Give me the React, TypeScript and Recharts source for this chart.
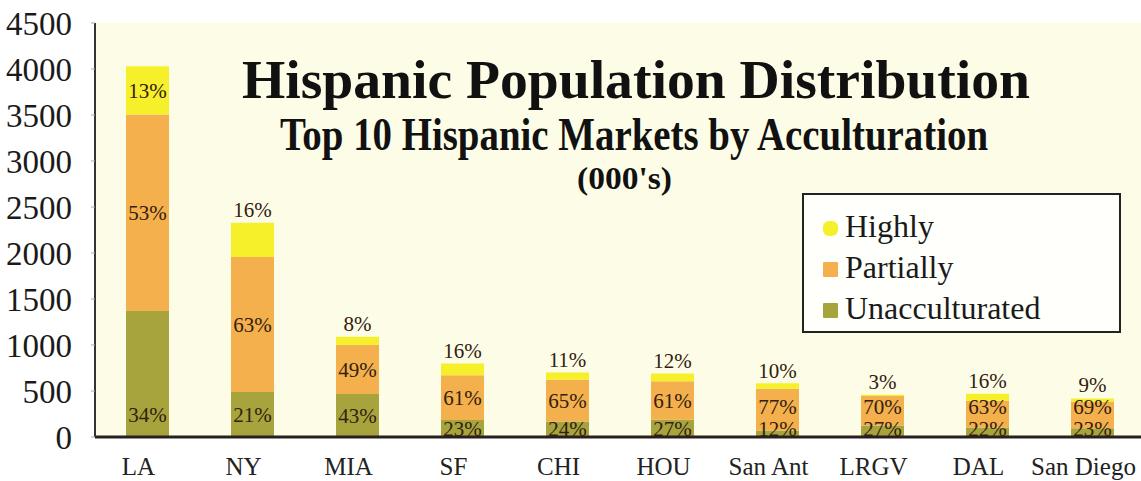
import { BarChart, Bar, XAxis, YAxis, CartesianGrid, Legend, LabelList } from 'recharts';

const markets = ['LA', 'NY', 'MIA', 'SF', 'CHI', 'HOU', 'San Ant', 'LRGV', 'DAL', 'San Diego'];
// total Hispanic population per market, in thousands
const totals = [4030, 2330, 1090, 800, 700, 690, 590, 460, 465, 415];
// share of each market by acculturation level, in percent
const unacculturatedPct = [34, 21, 43, 23, 24, 27, 12, 27, 22, 23];
const partiallyPct = [53, 63, 49, 61, 65, 61, 77, 70, 63, 69];
const highlyPct = [13, 16, 8, 16, 11, 12, 10, 3, 16, 9];
const yTicks = [0, 500, 1000, 1500, 2000, 2500, 3000, 3500, 4000, 4500];

const COLORS = { highly: '#f6f02a', partially: '#f4b04c', unacc: '#a7a43d' };
const SERIF = '"Liberation Serif", "Times New Roman", serif';
const LABEL_FILL = '#33200f';
const LABEL_GAP = 22;

type SegKey = 'unacc' | 'partially' | 'highly';

const data = markets.map((name, i) => ({
  name,
  unacc: (totals[i] * unacculturatedPct[i]) / 100,
  partially: (totals[i] * partiallyPct[i]) / 100,
  highly: (totals[i] * highlyPct[i]) / 100,
  unaccPct: unacculturatedPct[i],
  partiallyPct: partiallyPct[i],
  highlyPct: highlyPct[i],
}));

const pctText = (cx: number, cy: number, value: any) => (
  <text x={cx} y={cy} dy="0.35em" textAnchor="middle" fontSize={21} fontFamily={SERIF} fill={LABEL_FILL}>
    {`${value}%`}
  </text>
);

// Label heights for one bar, worked out from whichever segment is being
// labelled, so the three labels don't pile up on the short bars.
const labelRows = (index: number, y: number, height: number, key: SegKey) => {
  const d = data[index];
  const px = d[key] > 0 ? height / d[key] : 0;
  const below = key === 'unacc' ? 0 : key === 'partially' ? d.unacc : d.unacc + d.partially;
  const base = y + height + below * px;
  const unaccTop = base - d.unacc * px;
  const partTop = unaccTop - d.partially * px;
  const barTop = partTop - d.highly * px;
  const unaccCy = Math.min(Math.max((unaccTop + base) / 2, base - 22), base - 8);
  const partCy = Math.min((partTop + unaccTop) / 2, unaccCy - LABEL_GAP);
  // top share goes above the bar, except on the tallest one
  const highCy = index === 0 ? (barTop + partTop) / 2 : Math.min(barTop - 13, partCy - LABEL_GAP);
  return { unacc: unaccCy, partially: partCy, highly: highCy };
};

const segLabel = (key: SegKey) => (props: any) => {
  const { x, y, width, height, value, index } = props;
  return pctText(x + width / 2, labelRows(index, y, height, key)[key], value);
};

const legendRows = [
  { key: 'highly', label: 'Highly', rx: 6 },
  { key: 'partially', label: 'Partially', rx: 1 },
  { key: 'unacc', label: 'Unacculturated', rx: 1 },
];

const renderLegend = () => (
  <svg width={320} height={141}>
    <rect x={1} y={1} width={317} height={138} fill="#fffffc" stroke="#222" strokeWidth={2} />
    {legendRows.map((row, i) => {
      const base = 44 + i * 41;
      return (
        <g key={row.key}>
          <rect x={21} y={base - 16} width={15} height={15} rx={row.rx} fill={(COLORS as any)[row.key]} />
          <text x={43} y={base} fontSize={32} fontFamily={SERIF} fill="#1a1a1a">
            {row.label}
          </text>
        </g>
      );
    })}
  </svg>
);

export default function App() {
  return (
    <div
      style={{
        position: 'absolute',
        left: 0,
        top: 0,
        width: 1141,
        height: 481,
        overflow: 'hidden',
        background: '#ffffff',
        fontFamily: SERIF,
      }}
    >
      <BarChart width={1145} height={481} data={data} margin={{ top: 23, right: 0, bottom: 0, left: 0 }}>
        <CartesianGrid horizontal={false} vertical={false} fill="#fdfde7" stroke="none" />
        <XAxis
          dataKey="name"
          height={44}
          tickLine={false}
          tickSize={0}
          tickMargin={20}
          axisLine={{ stroke: '#2a1f1f', strokeWidth: 3 }}
          tick={{ fontSize: 25, fill: '#222', fontFamily: SERIF, dx: -9 }}
          interval={0}
        />
        <YAxis
          width={95}
          domain={[0, 4500]}
          ticks={yTicks}
          interval={0}
          tickSize={4}
          tickMargin={19}
          tickLine={{ stroke: '#aaa', strokeWidth: 1 }}
          axisLine={{ stroke: '#333', strokeWidth: 2 }}
          tick={{ fontSize: 33, fill: '#1a1a1a', fontFamily: SERIF }}
        />
        <Legend
          layout="horizontal"
          align="center"
          verticalAlign="middle"
          content={renderLegend}
          wrapperStyle={{ left: 802, top: 193, width: 320, height: 141 }}
        />
        <Bar dataKey="unacc" name="Unacculturated" stackId="a" fill={COLORS.unacc} barSize={43} isAnimationActive={false}>
          <LabelList dataKey="unaccPct" content={segLabel('unacc')} />
        </Bar>
        <Bar dataKey="partially" name="Partially" stackId="a" fill={COLORS.partially} barSize={43} isAnimationActive={false}>
          <LabelList dataKey="partiallyPct" content={segLabel('partially')} />
        </Bar>
        <Bar dataKey="highly" name="Highly" stackId="a" fill={COLORS.highly} barSize={43} isAnimationActive={false}>
          <LabelList dataKey="highlyPct" content={segLabel('highly')} />
        </Bar>
      </BarChart>
      <svg
        width={1141}
        height={481}
        style={{ position: 'absolute', left: 0, top: 0, pointerEvents: 'none' }}
      >
        <g fontFamily={SERIF} fontWeight="bold" fill="#111">
          <text x={242} y={98} fontSize={54} textLength={788} lengthAdjust="spacingAndGlyphs">
            Hispanic Population Distribution
          </text>
          <text x={280} y={150} fontSize={46} textLength={708} lengthAdjust="spacingAndGlyphs">
            Top 10 Hispanic Markets by Acculturation
          </text>
          <text x={577} y={189} fontSize={32} textLength={95} lengthAdjust="spacingAndGlyphs">
            (000's)
          </text>
        </g>
      </svg>
    </div>
  );
}
